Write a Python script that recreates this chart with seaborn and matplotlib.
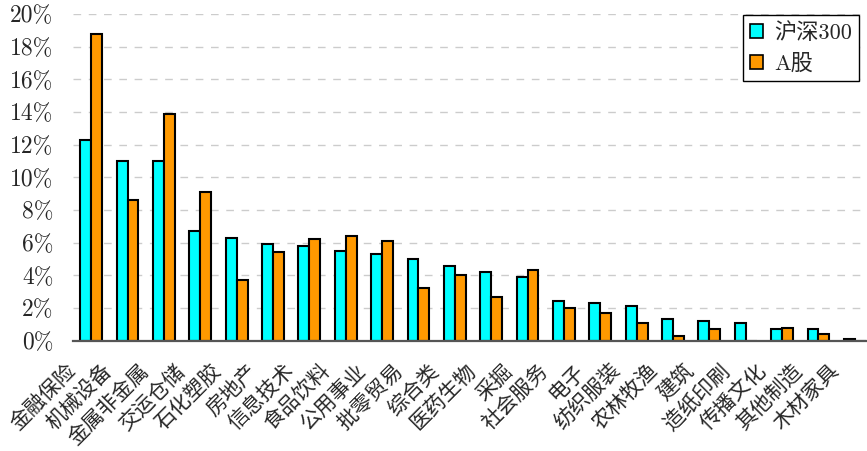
import matplotlib
matplotlib.use("Agg")
import matplotlib.pyplot as plt
import matplotlib.transforms as mtransforms
import seaborn as sns
import pandas as pd
import numpy as np
from matplotlib.patches import Patch
from matplotlib.ticker import FuncFormatter

# Industry weights (%) of the CSI 300 versus the whole A-share market
industries = ["金融保险", "机械设备", "金属非金属", "交运仓储", "石化塑胶", "房地产",
              "信息技术", "食品饮料", "公用事业", "批零贸易", "综合类", "医药生物",
              "采掘", "社会服务", "电子", "纺织服装", "农林牧渔", "建筑",
              "造纸印刷", "传播文化", "其他制造", "木材家具"]
hs300 = [12.3, 11.0, 11.0, 6.7, 6.3, 5.9, 5.8, 5.5, 5.3, 5.0, 4.6, 4.2,
         3.9, 2.4, 2.3, 2.1, 1.3, 1.2, 1.1, 0.7, 0.7, 0.1]
a_share = [18.8, 8.6, 13.9, 9.1, 3.7, 5.4, 6.2, 6.4, 6.1, 3.2, 4.0, 2.7,
           4.3, 2.0, 1.7, 1.1, 0.3, 0.7, 0.0, 0.8, 0.4, 0.0]
series_names = ["沪深300", "A股"]
y_ticks = list(range(0, 21, 2))
colors = ["#00FFFF", "#FF9900"]

sns.set_style("white")
plt.rcParams["font.family"] = ["cmr10", "Noto Sans CJK SC"]
plt.rcParams["axes.unicode_minus"] = False

df = pd.DataFrame({
    "industry": industries * 2,
    "share": hs300 + a_share,
    "index": [series_names[0]] * len(industries) + [series_names[1]] * len(industries),
})

fig = plt.figure(figsize=(8.67, 4.51), dpi=100)
ax = fig.add_axes([73 / 867, (451 - 340.7) / 451, 800 / 867, (340.7 - 14) / 451])

sns.barplot(data=df, x="industry", y="share", hue="index", palette=colors,
            width=0.6, saturation=1, edgecolor="black", linewidth=1.5,
            legend=False, ax=ax)

ax.set_xlim(-0.5, len(industries) - 0.5)
ax.set_ylim(0, 20)
ax.set_xlabel("")
ax.set_ylabel("")

ax.set_yticks(y_ticks)
ax.yaxis.set_major_formatter(FuncFormatter(lambda v, _: f"{int(v)}%"))
ax.grid(axis="y", color="#cccccc", linewidth=1.0, linestyle=(0, (5.5, 5.5)))
ax.grid(axis="x", visible=False)
ax.set_axisbelow(True)

ax.tick_params(axis="y", length=0, pad=14, labelsize=17)
ax.tick_params(axis="x", which="major", length=0, pad=8, labelsize=15)
ax.set_xticks(np.arange(-0.5, len(industries), 1), minor=True)
ax.tick_params(axis="x", which="minor", direction="in", length=5, width=1.2,
               color="#444444")

for side in ["top", "right", "left"]:
    ax.spines[side].set_visible(False)
ax.spines["bottom"].set_color("#555555")
ax.spines["bottom"].set_linewidth(1.6)

# slanted category labels, nudged left and down from the group centres
shift = mtransforms.ScaledTranslation(-11 / 100, -8 / 100, fig.dpi_scale_trans)
for lbl in ax.get_xticklabels():
    lbl.set_rotation(45)
    lbl.set_ha("right")
    lbl.set_family(["Noto Sans CJK SC"])
    lbl.set_transform(lbl.get_transform() + shift)

handles = [Patch(facecolor=c, edgecolor="black", linewidth=1.2) for c in colors]
leg = fig.legend(handles, series_names, loc="upper right",
                 bbox_to_anchor=(859 / 867, 1 - 15 / 451), borderaxespad=0,
                 frameon=True, fancybox=False, edgecolor="black", framealpha=1,
                 fontsize=16, handlelength=0.6, handleheight=0.6,
                 handletextpad=0.5, borderpad=0.3, labelspacing=0.5)
leg.get_frame().set_linewidth(1.0)

fig.savefig("out.png", dpi=100)
